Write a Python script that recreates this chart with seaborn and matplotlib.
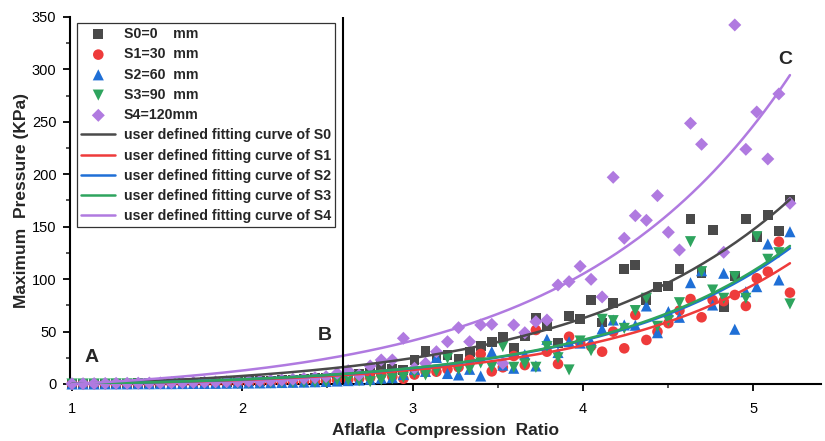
import numpy as np
import pandas as pd
import matplotlib
matplotlib.use("Agg")
import matplotlib.pyplot as plt
import seaborn as sns
from matplotlib import font_manager
from matplotlib.ticker import MultipleLocator

nan = np.nan

# ---------------- data ----------------
x_ratio = [1.000, 1.065, 1.130, 1.195, 1.259, 1.324, 1.389, 1.454, 1.519, 1.584,
           1.649, 1.713, 1.778, 1.843, 1.908, 1.973, 2.038, 2.103, 2.167, 2.232,
           2.297, 2.362, 2.427, 2.492, 2.557, 2.622, 2.686, 2.751, 2.816, 2.881,
           2.946, 3.011, 3.076, 3.140, 3.205, 3.270, 3.335, 3.400, 3.465, 3.530,
           3.594, 3.659, 3.724, 3.789, 3.854, 3.919, 3.984, 4.048, 4.113, 4.178,
           4.243, 4.308, 4.373, 4.438, 4.502, 4.567, 4.632, 4.697, 4.762, 4.827,
           4.892, 4.957, 5.021, 5.086, 5.151, 5.216]

s0 = [0.0, 0.1, 0.2, 0.3, 0.4, 0.5, 0.6, 0.8, 0.9, 1.0,
      1.2, 1.4, 1.6, 1.8, 2.0, 2.3, 2.6, 3.0, 3.3, 3.8,
      4.2, 4.8, 5.5, 6.2, 7.0, 8.0, 9.5, 11.0, 17.2, 14.0,
      13.0, 22.9, 31.5, 25.0, 28.0, 23.5, 30.8, 36.2, 40.3, 45.0,
      34.6, 46.0, 63.2, 55.0, 38.8, 64.8, 62.0, 80.0, 58.7, 77.5,
      109.7, 113.8, 80.0, 92.8, 93.7, 109.7, 157.0, 105.6, 147.0, 73.7,
      103.0, 157.0, 140.0, 161.5, 146.2, 176.0]

s1 = [0.0, 0.0, 0.1, 0.1, 0.2, 0.2, 0.3, 0.3, 0.4, 0.5,
      0.5, 0.6, 0.7, 0.8, 0.9, 1.0, 1.2, 1.4, 1.6, 1.8,
      2.0, 2.3, 2.6, 3.0, 3.5, 4.0, 5.0, 6.0, 9.0, 7.0,
      5.0, 9.0, 12.0, 11.7, 14.0, 16.0, 22.9, 28.6, 12.0, 15.9,
      26.7, 18.0, 51.5, 30.8, 19.1, 45.1, 39.4, 36.0, 30.8, 49.9,
      34.0, 65.8, 42.0, 49.9, 58.0, 70.0, 81.0, 63.6, 80.1, 79.0,
      84.9, 74.4, 100.8, 107.1, 135.7, 87.1]

s2 = [0.0, 0.0, 0.0, 0.1, 0.1, 0.1, 0.2, 0.2, 0.3, 0.3,
      0.4, 0.5, 0.5, 0.6, 0.7, 0.8, 0.9, 1.0, 1.2, 1.4,
      1.6, 1.8, 2.1, 2.4, 2.8, 3.2, 3.8, 4.5, 5.5, 6.0,
      9.0, 14.0, 12.0, 25.4, 10.0, 8.6, 14.0, 7.6, 30.8, 18.0,
      15.0, 28.0, 17.2, 42.6, 30.0, 40.3, 39.0, 40.0, 52.5, 61.0,
      56.3, 56.0, 74.4, 48.9, 69.0, 63.6, 96.6, 108.0, 75.3, 105.6,
      52.2, 88.0, 92.8, 133.5, 99.2, 145.2]

s3 = [0.0, 0.0, 0.0, 0.0, 0.1, 0.1, 0.1, 0.2, 0.2, 0.3,
      0.3, 0.4, 0.4, 0.5, 0.6, 0.7, 0.8, 0.9, 1.0, 1.2,
      1.4, 1.6, 1.8, 2.0, 3.8, 3.8, 3.0, 2.2, 3.8, 5.0,
      6.4, 10.0, 8.6, 12.0, 24.5, 14.0, 14.0, 20.0, 15.9, 35.6,
      15.9, 19.1, 15.9, 35.6, 25.0, 13.4, 41.0, 31.8, 61.7, 60.4,
      53.0, 70.0, 81.7, 55.0, 60.4, 77.5, 135.7, 107.1, 89.6, 81.7,
      102.3, 81.7, 140.5, 118.9, 125.2, 76.3]

s4 = [0.2, 0.3, 0.4, 0.5, 0.6, 0.7, 0.8, 0.9, 1.0, 1.1,
      1.3, 1.5, 1.7, 1.9, 2.1, 2.4, 2.7, 3.0, 3.4, 3.8,
      4.5, 5.2, 6.0, 7.0, 10.2, 12.7, 8.6, 17.2, 22.9, 22.9,
      43.6, 15.0, 19.7, 30.8, 40.3, 53.7, 40.3, 56.3, 56.9, 19.7,
      56.3, 48.9, 59.4, 61.0, 94.4, 97.6, 112.2, 99.8, 83.0, 197.1,
      139.0, 160.5, 156.1, 179.6, 144.7, 127.8, 248.6, 228.6, nan, 125.6,
      342.4, 223.8, 259.4, 214.6, 276.6, 172.3]

series_labels = ["S0=0    mm", "S1=30  mm", "S2=60  mm", "S3=90  mm", "S4=120mm"]
fit_labels = ["user defined fitting curve of S0", "user defined fitting curve of S1",
              "user defined fitting curve of S2", "user defined fitting curve of S3",
              "user defined fitting curve of S4"]
# fitted model parameters: y = K * (exp(b * (x - 1)) - 1)
fit_K = [6.25, 2.65, 2.98, 3.03, 10.46]
fit_b = [0.80, 0.90, 0.90, 0.90, 0.80]
fit_x_end = 5.216

colors = ["#4a4a4a", "#ee3b3b", "#1f6fd6", "#2ea45e", "#b07ae0"]
markers = ["s", "o", "^", "v", "D"]
msizes = [50, 58, 64, 64, 44]

# ---------------- fonts ----------------
names = {f.name for f in font_manager.fontManager.ttflist}
main_font = "Liberation Sans" if "Liberation Sans" in names else "DejaVu Sans"
tick_font = "Liberation Sans Narrow" if "Liberation Sans Narrow" in names else main_font

sns.set_style("ticks")
plt.rcParams["font.family"] = [main_font, "DejaVu Sans"]

fig = plt.figure(figsize=(8.25, 4.41), dpi=100)
ax = fig.add_axes([0.0852, 0.1293, 0.9103, 0.8322])

all_y = [s0, s1, s2, s3, s4]
for i in range(5):
    df = pd.DataFrame({"x": x_ratio, "y": all_y[i]}).dropna()
    sns.scatterplot(data=df, x="x", y="y", ax=ax, marker=markers[i], color=colors[i],
                    s=msizes[i], edgecolor="none", linewidth=0, label=series_labels[i],
                    clip_on=False, zorder=3 + i)

xx = np.linspace(1.0, fit_x_end, 200)
for i in range(5):
    yy = fit_K[i] * (np.exp(fit_b[i] * (xx - 1.0)) - 1.0)
    sns.lineplot(x=xx, y=yy, ax=ax, color=colors[i], linewidth=1.8,
                 label=fit_labels[i], zorder=10)

ax.axvline(2.59, color="black", linewidth=1.5, zorder=11)

ax.set_xlim(0.99, 5.4)
ax.set_ylim(0, 350)
ax.xaxis.set_major_locator(MultipleLocator(1))
ax.xaxis.set_minor_locator(MultipleLocator(0.5))
ax.yaxis.set_major_locator(MultipleLocator(50))
ax.yaxis.set_minor_locator(MultipleLocator(25))
ax.tick_params(which="major", direction="out", length=5, width=1.3, labelsize=10.5,
               colors="black")
ax.tick_params(axis="x", which="major", pad=8)
ax.tick_params(axis="y", which="major", pad=5)
ax.tick_params(which="minor", direction="out", length=3, width=1.1)
for lab in ax.get_xticklabels() + ax.get_yticklabels():
    lab.set_fontfamily([tick_font, "DejaVu Sans"])

sns.despine(ax=ax)
for sp in ["left", "bottom"]:
    ax.spines[sp].set_linewidth(1.5)
    ax.spines[sp].set_color("black")

ax.set_xlabel("Aflafla  Compression  Ratio", fontsize=12.5, fontweight="bold", labelpad=5)
ax.set_ylabel("Maximum  Pressure (KPa)", fontsize=12.5, fontweight="bold", labelpad=2)

ax.text(1.117, 25.7, "A", fontsize=14, fontweight="bold", ha="center", va="center")
ax.text(2.486, 46.7, "B", fontsize=14, fontweight="bold", ha="center", va="center")
ax.text(5.187, 309, "C", fontsize=14, fontweight="bold", ha="center", va="center")

handles, labels = ax.get_legend_handles_labels()
leg = ax.legend(handles, labels, loc="upper left", bbox_to_anchor=(0.009, 0.984),
                borderaxespad=0, frameon=True, fancybox=False, edgecolor="black",
                prop={"weight": "bold", "size": 10.2}, handlelength=2.4,
                handletextpad=0.6, labelspacing=0.44, borderpad=0.3)
leg.get_frame().set_linewidth(0.9)
leg.set_zorder(20)

fig.savefig("out.png", dpi=100)
